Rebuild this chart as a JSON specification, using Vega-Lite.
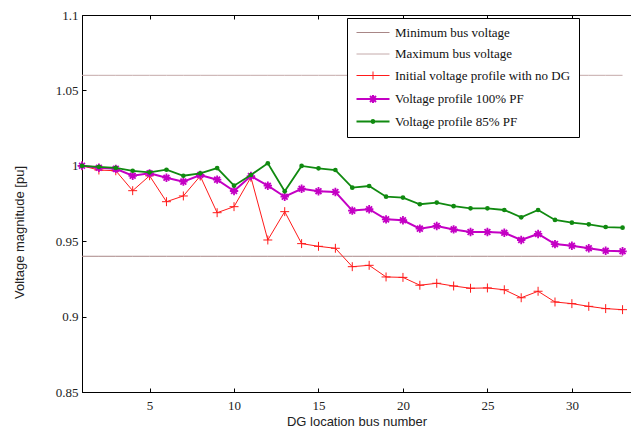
{
  "$schema": "https://vega.github.io/schema/vega-lite/v6.json",
  "width": 549,
  "height": 377,
  "autosize": "none",
  "padding": {"left": 82, "top": 15, "right": 0, "bottom": 36},
  "background": "white",
  "config": {
    "view": {"stroke": "black", "strokeWidth": 1},
    "axis": {
      "grid": false,
      "domainColor": "black",
      "tickColor": "black",
      "tickSize": -4,
      "labelFont": "'Liberation Serif', 'Times New Roman', 'DejaVu Serif', serif",
      "labelFontSize": 13,
      "labelColor": "#222222",
      "labelOverlap": false,
      "labelBound": false,
      "titleFont": "'Liberation Sans', Arial, sans-serif",
      "titleFontSize": 13,
      "titleFontWeight": "normal",
      "titleColor": "#222222"
    }
  },
  "data": {
    "values": [
      {"bus": 1, "Minimum bus voltage": 0.94, "Maximum bus voltage": 1.06, "Initial voltage profile with no DG": 1.0, "Voltage profile 100% PF": 1.0, "Voltage profile 85% PF": 1.0},
      {"bus": 2, "Minimum bus voltage": 0.94, "Maximum bus voltage": 1.06, "Initial voltage profile with no DG": 0.9972, "Voltage profile 100% PF": 0.9987, "Voltage profile 85% PF": 0.9993},
      {"bus": 3, "Minimum bus voltage": 0.94, "Maximum bus voltage": 1.06, "Initial voltage profile with no DG": 0.9967, "Voltage profile 100% PF": 0.998, "Voltage profile 85% PF": 0.9986},
      {"bus": 4, "Minimum bus voltage": 0.94, "Maximum bus voltage": 1.06, "Initial voltage profile with no DG": 0.9835, "Voltage profile 100% PF": 0.9934, "Voltage profile 85% PF": 0.9967},
      {"bus": 5, "Minimum bus voltage": 0.94, "Maximum bus voltage": 1.06, "Initial voltage profile with no DG": 0.9934, "Voltage profile 100% PF": 0.995, "Voltage profile 85% PF": 0.9957},
      {"bus": 6, "Minimum bus voltage": 0.94, "Maximum bus voltage": 1.06, "Initial voltage profile with no DG": 0.9762, "Voltage profile 100% PF": 0.9921, "Voltage profile 85% PF": 0.9974},
      {"bus": 7, "Minimum bus voltage": 0.94, "Maximum bus voltage": 1.06, "Initial voltage profile with no DG": 0.98, "Voltage profile 100% PF": 0.9895, "Voltage profile 85% PF": 0.9934},
      {"bus": 8, "Minimum bus voltage": 0.94, "Maximum bus voltage": 1.06, "Initial voltage profile with no DG": 0.9932, "Voltage profile 100% PF": 0.9939, "Voltage profile 85% PF": 0.995},
      {"bus": 9, "Minimum bus voltage": 0.94, "Maximum bus voltage": 1.06, "Initial voltage profile with no DG": 0.9689, "Voltage profile 100% PF": 0.9908, "Voltage profile 85% PF": 0.9985},
      {"bus": 10, "Minimum bus voltage": 0.94, "Maximum bus voltage": 1.06, "Initial voltage profile with no DG": 0.9729, "Voltage profile 100% PF": 0.9833, "Voltage profile 85% PF": 0.9868},
      {"bus": 11, "Minimum bus voltage": 0.94, "Maximum bus voltage": 1.06, "Initial voltage profile with no DG": 0.9924, "Voltage profile 100% PF": 0.9932, "Voltage profile 85% PF": 0.9939},
      {"bus": 12, "Minimum bus voltage": 0.94, "Maximum bus voltage": 1.06, "Initial voltage profile with no DG": 0.9508, "Voltage profile 100% PF": 0.9868, "Voltage profile 85% PF": 1.0017},
      {"bus": 13, "Minimum bus voltage": 0.94, "Maximum bus voltage": 1.06, "Initial voltage profile with no DG": 0.9696, "Voltage profile 100% PF": 0.9795, "Voltage profile 85% PF": 0.9831},
      {"bus": 14, "Minimum bus voltage": 0.94, "Maximum bus voltage": 1.06, "Initial voltage profile with no DG": 0.9484, "Voltage profile 100% PF": 0.9848, "Voltage profile 85% PF": 0.9999},
      {"bus": 15, "Minimum bus voltage": 0.94, "Maximum bus voltage": 1.06, "Initial voltage profile with no DG": 0.9466, "Voltage profile 100% PF": 0.9831, "Voltage profile 85% PF": 0.9983},
      {"bus": 16, "Minimum bus voltage": 0.94, "Maximum bus voltage": 1.06, "Initial voltage profile with no DG": 0.9453, "Voltage profile 100% PF": 0.9826, "Voltage profile 85% PF": 0.9972},
      {"bus": 17, "Minimum bus voltage": 0.94, "Maximum bus voltage": 1.06, "Initial voltage profile with no DG": 0.9331, "Voltage profile 100% PF": 0.9703, "Voltage profile 85% PF": 0.9855},
      {"bus": 18, "Minimum bus voltage": 0.94, "Maximum bus voltage": 1.06, "Initial voltage profile with no DG": 0.934, "Voltage profile 100% PF": 0.9712, "Voltage profile 85% PF": 0.9866},
      {"bus": 19, "Minimum bus voltage": 0.94, "Maximum bus voltage": 1.06, "Initial voltage profile with no DG": 0.9263, "Voltage profile 100% PF": 0.9645, "Voltage profile 85% PF": 0.9795},
      {"bus": 20, "Minimum bus voltage": 0.94, "Maximum bus voltage": 1.06, "Initial voltage profile with no DG": 0.926, "Voltage profile 100% PF": 0.9639, "Voltage profile 85% PF": 0.9789},
      {"bus": 21, "Minimum bus voltage": 0.94, "Maximum bus voltage": 1.06, "Initial voltage profile with no DG": 0.9208, "Voltage profile 100% PF": 0.9583, "Voltage profile 85% PF": 0.9745},
      {"bus": 22, "Minimum bus voltage": 0.94, "Maximum bus voltage": 1.06, "Initial voltage profile with no DG": 0.9221, "Voltage profile 100% PF": 0.9601, "Voltage profile 85% PF": 0.9756},
      {"bus": 23, "Minimum bus voltage": 0.94, "Maximum bus voltage": 1.06, "Initial voltage profile with no DG": 0.9203, "Voltage profile 100% PF": 0.9578, "Voltage profile 85% PF": 0.9732},
      {"bus": 24, "Minimum bus voltage": 0.94, "Maximum bus voltage": 1.06, "Initial voltage profile with no DG": 0.9188, "Voltage profile 100% PF": 0.9561, "Voltage profile 85% PF": 0.9718},
      {"bus": 25, "Minimum bus voltage": 0.94, "Maximum bus voltage": 1.06, "Initial voltage profile with no DG": 0.919, "Voltage profile 100% PF": 0.9561, "Voltage profile 85% PF": 0.9718},
      {"bus": 26, "Minimum bus voltage": 0.94, "Maximum bus voltage": 1.06, "Initial voltage profile with no DG": 0.9178, "Voltage profile 100% PF": 0.9556, "Voltage profile 85% PF": 0.9707},
      {"bus": 27, "Minimum bus voltage": 0.94, "Maximum bus voltage": 1.06, "Initial voltage profile with no DG": 0.9125, "Voltage profile 100% PF": 0.9508, "Voltage profile 85% PF": 0.9658},
      {"bus": 28, "Minimum bus voltage": 0.94, "Maximum bus voltage": 1.06, "Initial voltage profile with no DG": 0.9168, "Voltage profile 100% PF": 0.9548, "Voltage profile 85% PF": 0.9707},
      {"bus": 29, "Minimum bus voltage": 0.94, "Maximum bus voltage": 1.06, "Initial voltage profile with no DG": 0.9097, "Voltage profile 100% PF": 0.9481, "Voltage profile 85% PF": 0.9641},
      {"bus": 30, "Minimum bus voltage": 0.94, "Maximum bus voltage": 1.06, "Initial voltage profile with no DG": 0.9086, "Voltage profile 100% PF": 0.947, "Voltage profile 85% PF": 0.9623},
      {"bus": 31, "Minimum bus voltage": 0.94, "Maximum bus voltage": 1.06, "Initial voltage profile with no DG": 0.9068, "Voltage profile 100% PF": 0.9453, "Voltage profile 85% PF": 0.9612},
      {"bus": 32, "Minimum bus voltage": 0.94, "Maximum bus voltage": 1.06, "Initial voltage profile with no DG": 0.9053, "Voltage profile 100% PF": 0.9437, "Voltage profile 85% PF": 0.9594},
      {"bus": 33, "Minimum bus voltage": 0.94, "Maximum bus voltage": 1.06, "Initial voltage profile with no DG": 0.9046, "Voltage profile 100% PF": 0.9433, "Voltage profile 85% PF": 0.959}
    ]
  },
  "transform": [
    {"fold": ["Minimum bus voltage", "Maximum bus voltage", "Initial voltage profile with no DG", "Voltage profile 100% PF", "Voltage profile 85% PF"], "as": ["series", "v"]}
  ],
  "layer": [
    {
      "encoding": {
        "x": {
          "field": "bus", "type": "quantitative",
          "scale": {"domain": [1, 33.5], "nice": false, "zero": false},
          "axis": {"values": [5, 10, 15, 20, 25, 30], "title": "DG location bus number", "labelPadding": 11, "titlePadding": 3}
        },
        "y": {
          "field": "v", "type": "quantitative",
          "scale": {"domain": [0.85, 1.1], "nice": false, "zero": false},
          "axis": {"values": [0.85, 0.9, 0.95, 1, 1.05, 1.1], "labelExpr": "datum.value == 1 ? '1' : format(datum.value, '~g')", "title": "Voltage magnitude [pu]", "labelPadding": 8, "titleX": -63, "titleY": 217, "titleBaseline": "middle", "titleAlign": "center", "titleAngle": -90}
        },
        "color": {
          "field": "series", "type": "nominal",
          "scale": {
            "domain": ["Minimum bus voltage", "Maximum bus voltage", "Initial voltage profile with no DG", "Voltage profile 100% PF", "Voltage profile 85% PF"],
            "range": ["#a88686", "#c4aaaa", "#ff1a1a", "#c400c4", "#108a10"]
          },
          "legend": {
            "orient": "none", "legendX": 265, "legendY": 3,
            "title": null, "direction": "vertical",
            "symbolSize": 100, "symbolStrokeWidth": 1, "symbolFillColor": "transparent",
            "labelFont": "'Liberation Serif', 'Times New Roman', 'DejaVu Serif', serif", "labelFontSize": 13, "labelColor": "#111111",
            "labelOffset": 27, "labelLimit": 400,
            "padding": 8, "rowPadding": 7.5,
            "strokeColor": "black", "fillColor": "white",
            "encode": {
              "symbols": {
                "update": {
                  "shape": {"signal": "datum.value == 'Initial voltage profile with no DG' ? 'M-1,0H5.6M2.3,-0.8V0.8' : datum.value == 'Voltage profile 100% PF' ? 'M-1,0H5.6M2.3,-0.8V0.8M1.7,-0.6L2.9,0.6M1.7,0.6L2.9,-0.6' : datum.value == 'Voltage profile 85% PF' ? 'M-1,0H5.6M2.0,0A0.3,0.3 0 1,0 2.6,0A0.3,0.3 0 1,0 2.0,0' : 'M-1,0H5.6'"},
                  "strokeWidth": {"signal": "datum.value == 'Voltage profile 100% PF' ? 2 : datum.value == 'Voltage profile 85% PF' ? 1.8 : 1"}
                }
              }
            }
          }
        }
      },
      "layer": [
        {"transform": [{"filter": {"field": "series", "oneOf": ["Minimum bus voltage", "Maximum bus voltage"]}}], "mark": {"type": "line", "strokeWidth": 1}},
        {"transform": [{"filter": {"field": "series", "equal": "Initial voltage profile with no DG"}}], "mark": {"type": "line", "strokeWidth": 1}},
        {"transform": [{"filter": {"field": "series", "equal": "Initial voltage profile with no DG"}}], "mark": {"type": "point", "shape": "M-1,0H1M0,-1V1", "size": 80, "filled": false, "strokeWidth": 1, "opacity": 1}},
        {"transform": [{"filter": {"field": "series", "equal": "Voltage profile 100% PF"}}], "mark": {"type": "line", "strokeWidth": 2}},
        {"transform": [{"filter": {"field": "series", "equal": "Voltage profile 100% PF"}}], "mark": {"type": "point", "shape": "M-1,0H1M0,-1V1M-0.7,-0.7L0.7,0.7M-0.7,0.7L0.7,-0.7", "size": 70, "filled": false, "strokeWidth": 1.8, "opacity": 1}},
        {"transform": [{"filter": {"field": "series", "equal": "Voltage profile 85% PF"}}], "mark": {"type": "line", "strokeWidth": 1.8}},
        {"transform": [{"filter": {"field": "series", "equal": "Voltage profile 85% PF"}}], "mark": {"type": "point", "shape": "circle", "size": 22, "filled": true, "opacity": 1}}
      ]
    },
    {
      "mark": {"type": "point", "opacity": 0},
      "encoding": {
        "x": {"field": "bus", "type": "quantitative", "scale": {"domain": [1, 33.5], "nice": false, "zero": false}, "axis": {"orient": "top", "values": [5, 10, 15, 20, 25, 30], "labels": false, "title": null, "domain": false}},
        "y": {"field": "v", "type": "quantitative", "axis": null}
      }
    }
  ],
  "resolve": {"axis": {"x": "independent", "y": "independent"}}
}
